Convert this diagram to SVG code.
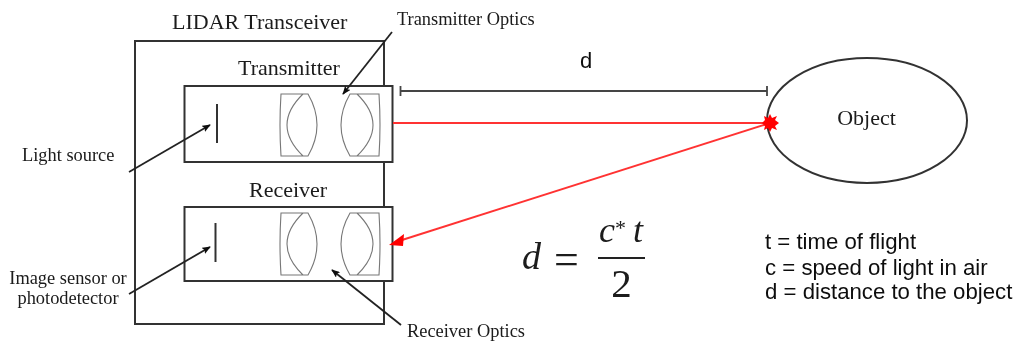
<svg xmlns="http://www.w3.org/2000/svg" width="1019" height="345" viewBox="0 0 1019 345">
<style>
.s{font-family:"Liberation Serif",serif;fill:#1a1a1a}
.a{font-family:"Liberation Sans",Arial,sans-serif;fill:#111}
.n{font-size:22px}
.o{font-size:18.400px}
.t{font-size:22.200px}
.b{fill:none;stroke:#333;stroke-width:2}
.l{fill:none;stroke:#777;stroke-width:1.1}
.k{fill:none;stroke:#222;stroke-width:1.8;marker-end:url(#ka)}
.r{fill:none;stroke:#f33;stroke-width:1.9}
</style>
<defs>
<marker id="ka" viewBox="0 0 10 8" refX="9" refY="4" markerWidth="9" markerHeight="7" markerUnits="userSpaceOnUse" orient="auto"><path d="M0 0L10 4L0 8L2 4Z" fill="#111"/></marker>
<filter id="soft" x="-5%" y="-5%" width="110%" height="110%"><feGaussianBlur stdDeviation="0.45"/></filter>
<g id="lensL"><path class="l" d="M303 0H281Q279 31 281 62H303M303 0H308Q326 31 308 62H303Q271 31 303 0Z"/></g>
<g id="lensR"><path class="l" d="M357 0H379Q381 31 379 62H357M357 0H350Q332 31 350 62H357Q389 31 357 0Z"/></g>
</defs>
<rect width="1019" height="345" fill="#fff"/>
<g filter="url(#soft)">
<g id="transceiver">
<rect class="b" x="135" y="41" width="249" height="283" fill="none"/>
<text class="s n" x="172" y="29">LIDAR Transceiver</text>
</g>
<g id="transmitter">
<rect x="184.500" y="86" width="208" height="76" fill="#fff" stroke="#333" stroke-width="2"/>
<text class="s n" x="238" y="75">Transmitter</text>
<path class="b" d="M217 104V143"/>
<use href="#lensL" y="94"/>
<use href="#lensR" y="94"/>
</g>
<g id="receiver">
<rect x="184.500" y="207" width="208" height="74" fill="#fff" stroke="#333" stroke-width="2"/>
<text class="s n" x="249" y="197">Receiver</text>
<path class="b" d="M215.500 223V262"/>
<use href="#lensL" y="213"/>
<use href="#lensR" y="213"/>
</g>
<g id="object">
<ellipse cx="867" cy="120.500" rx="100" ry="62.500" fill="#fff" stroke="#333" stroke-width="2"/>
<text class="s n" x="866.500" y="125" text-anchor="middle">Object</text>
</g>
<g id="labels">
<text class="s o" x="397" y="25">Transmitter Optics</text>
<text class="s o" x="22" y="161">Light source</text>
<text class="s o" x="68" y="284" text-anchor="middle">Image sensor or</text>
<text class="s o" x="68" y="304" text-anchor="middle">photodetector</text>
<text class="s o" x="407" y="337">Receiver Optics</text>
<text class="a" x="580" y="68" font-size="22">d</text>
<text class="a t" x="765" y="249">t = time of flight</text>
<text class="a t" x="765" y="275">c = speed of light in air</text>
<text class="a t" x="765" y="299">d = distance to the object</text>
</g>
<g id="formula">
<text class="s" x="522" y="269" font-size="38" font-style="italic">d</text>
<text class="s" x="554" y="274" font-size="44">=</text>
<text class="s" x="599" y="242" font-size="36" font-style="italic">c</text>
<text class="s" x="615" y="235" font-size="22">*</text>
<text class="s" x="633" y="242" font-size="36" font-style="italic">t</text>
<path d="M598 258H645" stroke="#222" stroke-width="2" fill="none"/>
<text class="s" x="621.500" y="297" font-size="41" text-anchor="middle">2</text>
</g>
<g id="connectors">
<path d="M400 91H767M400.500 86V96M767 86V96" fill="none" stroke="#444" stroke-width="1.800"/>
<path class="k" d="M129 172L210 125"/>
<path class="k" d="M129 294L210 247"/>
<path class="k" d="M392 32L343 94"/>
<path class="k" d="M401 325L332 270"/>
<path class="r" d="M393 123H770"/>
<path class="r" d="M770 123L402 240"/>
<path d="M389 245L404 234L403 246Z" fill="#f00"/>
<path d="M770 114L772 118L777 116L775 120L779 123L775 126L777 130L772 128L770 132L768 128L764 130L765 126L762 123L765 120L764 116L768 118Z" fill="#f00"/>
</g>
</g>
</svg>
